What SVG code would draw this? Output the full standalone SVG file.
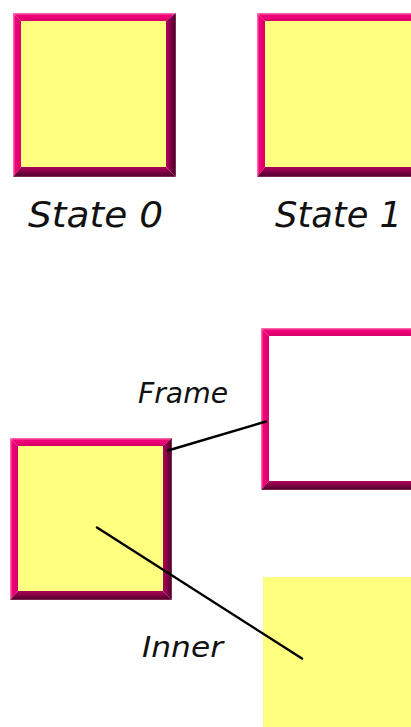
<svg xmlns="http://www.w3.org/2000/svg" width="411" height="727" viewBox="0 0 411 727">
<style>
.fill{fill:#ffff80}
.white{fill:#ffffff}
.t{fill:url(#gTop)}
.l{fill:url(#gLeft)}
.r{fill:url(#gRight)}
.b{fill:url(#gBottom)}
.lbl{font-family:"DejaVu Sans","Liberation Sans",sans-serif;font-style:italic;fill:#111}
.big{font-size:36px}
.small{font-size:29px}
.conn{stroke:#000;stroke-width:2.4;fill:none;stroke-linecap:round}
</style>
<defs>
<linearGradient id="gTop" x1="0" y1="0" x2="0" y2="1">
<stop offset="0" stop-color="#ff7fb5"/><stop offset="0.3" stop-color="#f2007a"/><stop offset="1" stop-color="#d8006a"/>
</linearGradient>
<linearGradient id="gLeft" x1="0" y1="0" x2="1" y2="0">
<stop offset="0" stop-color="#ff7fb5"/><stop offset="0.3" stop-color="#f2007a"/><stop offset="1" stop-color="#d8006a"/>
</linearGradient>
<linearGradient id="gRight" x1="0" y1="0" x2="1" y2="0">
<stop offset="0" stop-color="#b0005c"/><stop offset="0.85" stop-color="#5a0030"/><stop offset="1" stop-color="#8a4060"/>
</linearGradient>
<linearGradient id="gBottom" x1="0" y1="0" x2="0" y2="1">
<stop offset="0" stop-color="#b0005c"/><stop offset="0.85" stop-color="#5a0030"/><stop offset="1" stop-color="#8a4060"/>
</linearGradient>
</defs>
<rect width="411" height="727" fill="#ffffff"/>

<g id="node-state0">
<rect class="fill" x="21" y="21" width="145" height="146"/>
<polygon class="t" points="13,13 176,13 166,21 21,21"/>
<polygon class="l" points="13,13 21,21 21,167 13,177"/>
<polygon class="r" points="176,13 176,177 166,167 166,21"/>
<polygon class="b" points="13,177 176,177 166,167 21,167"/>
<text class="lbl big" x="28" y="227" textLength="135" lengthAdjust="spacingAndGlyphs">State 0</text>
</g>

<g id="node-state1">
<rect class="fill" x="265" y="21" width="146" height="146"/>
<polygon class="t" points="257,13 420,13 411,21 265,21"/>
<polygon class="l" points="257,13 265,21 265,167 257,177"/>
<polygon class="b" points="257,177 420,177 411,167 265,167"/>
<text class="lbl big" x="275" y="227" textLength="127" lengthAdjust="spacingAndGlyphs">State 1</text>
</g>

<g id="node-composite">
<rect class="fill" x="18" y="446" width="145" height="145"/>
<polygon class="t" points="10,438 172,438 163,446 18,446"/>
<polygon class="l" points="10,438 18,446 18,591 10,600"/>
<polygon class="r" points="172,438 172,600 163,591 163,446"/>
<polygon class="b" points="10,600 172,600 163,591 18,591"/>
</g>

<g id="node-frame">
<rect class="white" x="269" y="336" width="142" height="145"/>
<polygon class="t" points="261,328 420,328 411,336 269,336"/>
<polygon class="l" points="261,328 269,336 269,481 261,490"/>
<polygon class="b" points="261,490 420,490 411,481 269,481"/>
</g>

<g id="node-inner">
<rect class="fill" x="263" y="577" width="148" height="150"/>
</g>

<g id="connectors">
<line class="conn" x1="168" y1="450.5" x2="266" y2="421.5"/>
<line class="conn" x1="97" y1="527.5" x2="302" y2="658.5"/>
<text class="lbl small" x="138" y="403" textLength="90" lengthAdjust="spacingAndGlyphs">Frame</text>
<text class="lbl small" x="142" y="657" textLength="81" lengthAdjust="spacingAndGlyphs">Inner</text>
</g>
</svg>
